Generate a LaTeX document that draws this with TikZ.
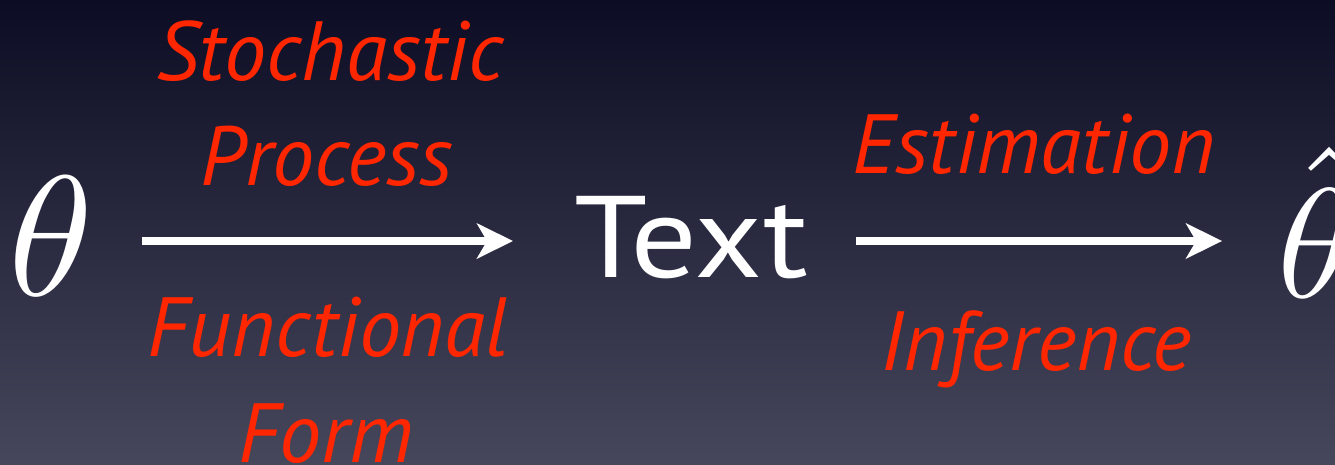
\documentclass[tikz,border=0pt]{standalone}
\usepackage{fontspec}
\setsansfont{PT Sans}
\newfontfamily\widesans[FakeStretch=1.14]{PT Sans}
\usetikzlibrary{arrows.meta}

\definecolor{bgtop}{RGB}{12,12,36}
\definecolor{bgbottom}{RGB}{70,71,91}
\definecolor{labelred}{RGB}{255,38,0}

\tikzset{
  symbol/.style={text=white, inner sep=0pt, anchor=base},
  word/.style={text=white, inner sep=0pt, anchor=base,
    font=\widesans\fontsize{116}{116}\selectfont},
  caption/.style={text=labelred, inner sep=0pt, anchor=base,
    font=\sffamily\itshape\fontsize{84}{84}\selectfont},
  arr/.style={draw=white, line width=7.5pt,
    -{Stealth[length=36pt, width=35pt, inset=10pt]}},
}

\begin{document}
\begin{tikzpicture}[x=1pt, y=-1pt]
  % background
  \shade[top color=bgtop, bottom color=bgbottom] (0,0) rectangle (1335,464);
  \useasboundingbox (0,0) rectangle (1335,464);

  % main chain (math symbols set at 10pt and enlarged)
  \node[symbol, scale=17.1] (theta) at (51,295) {$\theta$};
  \node[word] (text) at (691,277) {Text};
  \node[symbol, scale=15.6] (thetahat) at (1316,297) {$\hat{\theta}$};

  \coordinate (axis) at (0,241);
  \draw[arr] ([xshift=45pt]theta.east |- axis) -- ([xshift=-61pt]text.west |- axis);
  \draw[arr] ([xshift=48pt]text.east |- axis) -- ([xshift=-52pt]thetahat.west |- axis);

  % labels above and below the arrows
  \node[caption] (stoch) at (330,80) {Stochastic};
  \node[caption] (proc)  at (327,185) {Process};
  \node[caption] (func)  at (328,356) {Functional};
  \node[caption] (form)  at (326,462) {Form};
  \node[caption] (est)   at (1034,173) {Estimation};
  \node[caption] (inf)   at (1036,370) {Inference};
\end{tikzpicture}
\end{document}
